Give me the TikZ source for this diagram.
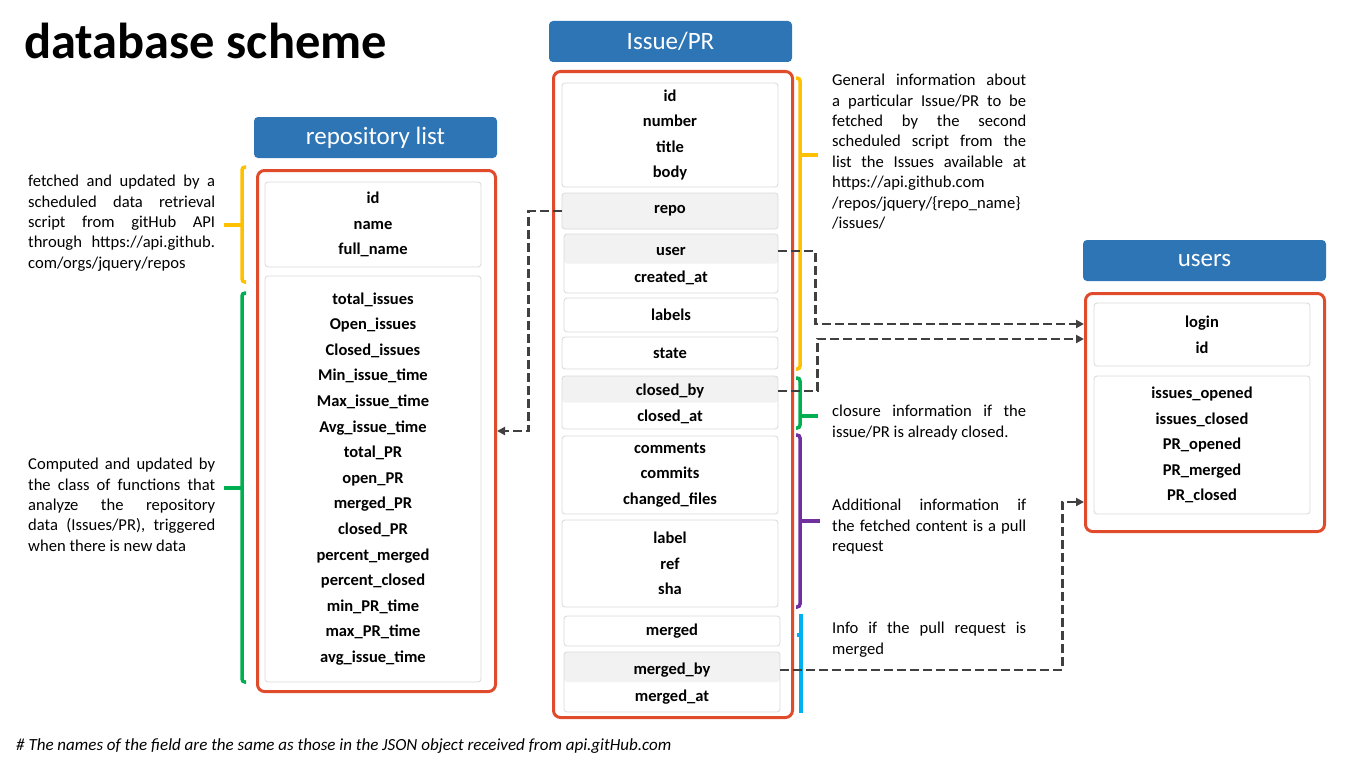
\documentclass[tikz,border=0pt]{standalone}
\usepackage{fontspec}
\setmainfont{Carlito}
\usepackage{tikz}
\usetikzlibrary{arrows.meta}

\definecolor{hdrblue}{HTML}{2E75B6}
\definecolor{tblred}{HTML}{E04B2C}
\definecolor{fldline}{HTML}{D9D9D9}
\definecolor{fldgray}{HTML}{F2F2F2}
\definecolor{linkgray}{HTML}{404040}
\definecolor{brkyellow}{HTML}{FFC000}
\definecolor{brkgreen}{HTML}{00B050}
\definecolor{brkpurple}{HTML}{7030A0}
\definecolor{brkcyan}{HTML}{00B0F0}

\newcommand\fieldfont{\fontsize{16.5}{25.6}\selectfont\bfseries}
\newcommand\notefont{\fontsize{16.6}{20.4}\selectfont}

\begin{document}
\begin{tikzpicture}[x=1pt,y=-1pt,
  hdr/.style={fill=hdrblue,rounded corners=4pt,minimum width=243pt,minimum height=41pt,inner sep=0pt,text=white,font=\fontsize{25}{30}\selectfont},
  tbl/.style={draw=tblred,line width=3pt,rounded corners=7pt,inner sep=0pt},
  fld/.style={draw=fldline,line width=0.8pt,rounded corners=3pt,fill=white,inner sep=0pt,align=center,font=\fieldfont},
  gfld/.style={fld,fill=fldgray},
  split/.style={fld,path picture={\fill[fldgray] (path picture bounding box.north west) rectangle (path picture bounding box.east);}},
  lbl/.style={inner sep=0pt,font=\fieldfont},
  note/.style={anchor=north west,inner sep=0pt,align=justify,font=\notefont},
  brk/.style={line width=3.5pt,rounded corners=3pt},
  link/.style={draw=linkgray,line width=2.5pt,dash pattern=on 9pt off 4pt,-{Triangle[length=8pt,width=8pt]}}
]
\useasboundingbox (0,0) rectangle (1362,768);

\node[anchor=base west,inner sep=0pt,font=\fontsize{50.5}{54}\selectfont\bfseries] (title) at (24,59) {database scheme};

% headers
\node[hdr] (hRepo) at (375.5,137.5) {repository list};
\node[hdr] (hIssue) at (670.5,41.5) {Issue/PR};
\node[hdr] (hUsers) at (1204.5,260.5) {users};

% outer tables
\node[tbl,minimum width=238pt,minimum height=521pt] (tRepo) at (376.5,431) {};
\node[tbl,minimum width=239pt,minimum height=646pt] (tIssue) at (673,394.5) {};
\node[tbl,minimum width=239pt,minimum height=238pt] (tUsers) at (1205,412.5) {};

% repository list fields
\node[fld,minimum width=216pt,minimum height=85pt] (rBasic) at (373,224.5) {id\\name\\full\_name};
\node[fld,minimum width=216pt,minimum height=406pt] (rStats) at (373,479) {total\_issues\\Open\_issues\\Closed\_issues\\Min\_issue\_time\\Max\_issue\_time\\Avg\_issue\_time\\total\_PR\\open\_PR\\merged\_PR\\closed\_PR\\percent\_merged\\percent\_closed\\min\_PR\_time\\max\_PR\_time\\avg\_issue\_time};

% Issue/PR fields
\node[fld,minimum width=216pt,minimum height=104pt] (iBasic) at (670,135) {id\\number\\title\\body};
\node[gfld,minimum width=216pt,minimum height=36pt] (iRepo) at (670,211) {repo};
\node[split,minimum width=214pt,minimum height=59pt] (iUserBox) at (671,263.5) {};
\node[lbl] (iUser) at (671,251) {user};
\node[lbl] (iCreated) at (671,278) {created\_at};
\node[fld,minimum width=214pt,minimum height=34pt] (iLabels) at (671,315) {labels};
\node[fld,minimum width=216pt,minimum height=32pt] (iState) at (670,353) {state};
\node[split,minimum width=216pt,minimum height=53pt] (iClosedBox) at (670,402.5) {};
\node[lbl] (iClosedBy) at (670,391) {closed\_by};
\node[lbl] (iClosedAt) at (670,417) {closed\_at};
\node[fld,minimum width=216pt,minimum height=78pt] (iCounts) at (670,475) {comments\\commits\\changed\_files};
\node[fld,minimum width=216pt,minimum height=87pt] (iRef) at (670,563.5) {label\\ref\\sha};
\node[fld,minimum width=216pt,minimum height=30pt] (iMerged) at (672,631) {merged};
\node[split,minimum width=216pt,minimum height=60pt] (iMergedBox) at (672,682) {};
\node[lbl] (iMergedBy) at (672,670) {merged\_by};
\node[lbl] (iMergedAt) at (672,697) {merged\_at};

% users fields
\node[fld,minimum width=216pt,minimum height=63pt] (uBasic) at (1202,334.5) {login\\id};
\node[fld,minimum width=216pt,minimum height=138pt] (uStats) at (1202,445) {issues\_opened\\issues\_closed\\PR\_opened\\PR\_merged\\PR\_closed};

% brackets
\draw[brk,brkyellow] (246,167) -- (242,167) -- (242,282) -- (246,282);
\draw[brk,brkyellow] (242,225) -- (224,225);
\draw[brk,brkgreen] (246,293) -- (242,293) -- (242,682) -- (246,682);
\draw[brk,brkgreen] (242,488) -- (224,488);
\draw[brk,brkyellow] (796,78) -- (800,78) -- (800,369) -- (796,369);
\draw[brk,brkyellow] (800,155) -- (818,155);
\draw[brk,brkgreen] (796,378) -- (800,378) -- (800,428) -- (796,428);
\draw[brk,brkgreen] (800,416) -- (818,416);
\draw[brk,brkpurple] (796,435) -- (800,435) -- (800,607) -- (796,607);
\draw[brk,brkpurple] (800,521) -- (820,521);
\draw[brk,brkcyan] (801,614) -- (801,713);
\draw[brk,brkcyan] (801,635) -- (797,635);

% notes
\node[note,text width=187pt] (nFetch) at (28,175) {fetched and updated by a\linebreak scheduled data retrieval\linebreak script from gitHub API\linebreak through https://api.github.\linebreak com/orgs/jquery/repos};
\node[note,text width=187pt] (nComputed) at (28,458) {Computed and updated by\linebreak the class of functions that\linebreak analyze the repository\linebreak data (Issues/PR), triggered\linebreak when there is new data};
\node[note,text width=194pt] (nGeneral) at (832,74) {General information about\linebreak a particular Issue/PR to be\linebreak fetched by the second\linebreak scheduled script from the\linebreak list the Issues available at\linebreak https://api.github.com\\/repos/jquery/\{repo\_name\}\\/issues/};
\node[note,text width=194pt] (nClosure) at (832,405) {closure information if the\linebreak issue/PR is already closed.};
\node[note,text width=194pt] (nExtra) at (832,499) {Additional information if\linebreak the fetched content is a pull\linebreak request};
\node[note,text width=194pt] (nMerged) at (832,622) {Info if the pull request is\linebreak merged};

\node[anchor=base west,inner sep=0pt,font=\fontsize{17}{20}\selectfont\itshape] (foot) at (16,750) {\# The names of the field are the same as those in the JSON object received from api.gitHub.com};

% links
\coordinate (toLogin) at (1084,324);
\coordinate (toId) at (1084,339);
\coordinate (toStats) at (1084,502);
\draw[link] (iRepo.west) -- ++(-33pt,0) |- (tRepo.east);
\draw[link] (iUserBox.east |- iUser) -- ++(37pt,0) |- (toLogin);
\draw[link] (iClosedBox.east |- iClosedBy) -- ++(39pt,0) |- (toId);
\draw[link] (iMergedBox.east |- iMergedBy) -- ++(282pt,0) |- (toStats);
\end{tikzpicture}
\end{document}
